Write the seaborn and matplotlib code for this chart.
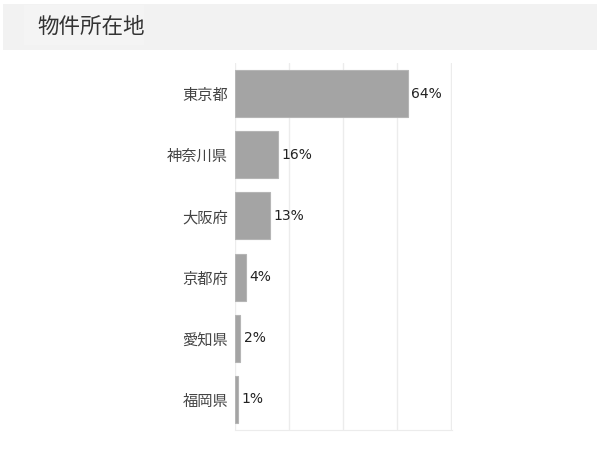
import matplotlib
matplotlib.use("Agg")
import matplotlib.pyplot as plt
import seaborn as sns
import pandas as pd
from matplotlib.patches import Rectangle

# data
prefectures = ["東京都", "神奈川県", "大阪府", "京都府", "愛知県", "福岡県"]
shares = [64, 16, 13, 4, 2, 1]

df = pd.DataFrame({"prefecture": prefectures, "share": shares})

sns.set_style("white")
plt.rcParams['font.family'] = ['Noto Sans CJK JP', 'DejaVu Sans']

fig = plt.figure(figsize=(6, 4.5), dpi=100)

# title banner
fig.patches.append(Rectangle((3 / 600, 1 - 50 / 450), 594 / 600, 46 / 450,
                             transform=fig.transFigure, facecolor="#f2f2f2",
                             edgecolor="none", zorder=0))
fig.patches.append(Rectangle((24 / 600, 1 - 45 / 450), 120 / 600, 40 / 450,
                             transform=fig.transFigure, facecolor="#f4f4f4",
                             edgecolor="none", zorder=0))
fig.text(37 / 600, 1 - 27 / 450, "物件所在地", fontsize=15.5, color="#333333",
         va="center", ha="left")

ax = fig.add_axes([235 / 600, 1 - 430 / 450, 217 / 600, 367 / 450])
sns.barplot(data=df, y="prefecture", x="share", color="#a4a4a4",
            width=0.77, saturation=1, edgecolor="#b5b5b5", linewidth=0.8, ax=ax)

ax.set_xlim(0, 80.5)
ax.set_xticks([0, 20, 40, 60, 80])
ax.xaxis.grid(True, color="#ececec", linewidth=1)
ax.set_axisbelow(True)
ax.tick_params(axis="x", length=0, labelbottom=False)
ax.tick_params(axis="y", length=0, labelsize=11, labelcolor="#444444", pad=5)
ax.set_xlabel("")
ax.set_ylabel("")
for s in ["top", "right", "left"]:
    ax.spines[s].set_visible(False)
ax.spines["bottom"].set_color("#ececec")

for i, v in enumerate(shares):
    ax.text(v + 1.3, i, f"{v}%", va="center", ha="left", fontsize=10,
            color="#222222", family=["DejaVu Sans"])

fig.savefig("out.png", dpi=100)
